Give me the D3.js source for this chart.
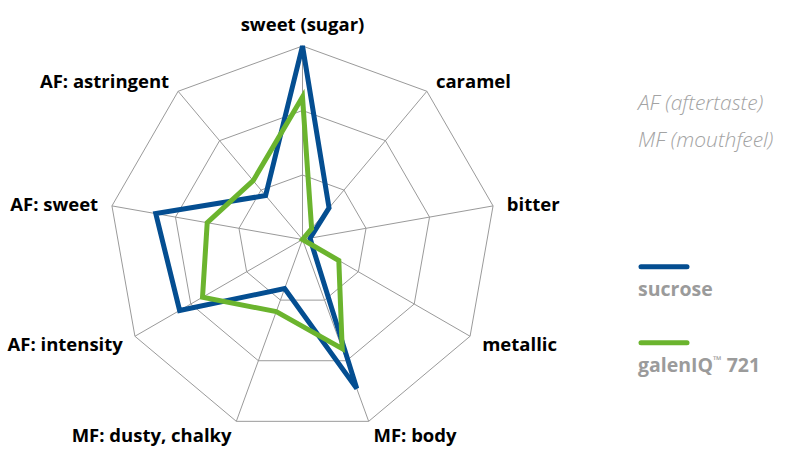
<!DOCTYPE html>
<html>
<head>
<meta charset="utf-8">
<script src="https://cdn.jsdelivr.net/npm/d3@7"></script>
<style>
  html, body { margin: 0; padding: 0; background: #fff; }
  svg { display: block; }
  text { font-family: "Open Sans", "DejaVu Sans", sans-serif; }
</style>
</head>
<body>
<svg id="chart" width="790" height="449"></svg>
<script>
// ---- data ----
const categories = ["sweet (sugar)", "caramel", "bitter", "metallic", "MF: body",
                    "MF: dusty, chalky", "AF: intensity", "AF: sweet", "AF: astringent"];
const sucrose   = [3.0, 0.64, 0.12, 0.17, 2.46, 0.81, 2.20, 2.31, 0.89];
const galenIQ   = [2.21, 0.22, 0.0, 0.65, 1.80, 1.19, 1.79, 1.50, 1.19];
const ringTicks = [1, 2, 3];
const seriesNames = ["sucrose", "galenIQ"];
const notes = ["AF (aftertaste)", "MF (mouthfeel)"];

// ---- layout ----
const svg = d3.select("#chart");
const cx = 302.5, cy = 239.5, R = 193.5;
const blue = "#044e91", green = "#6bb42e", gridColor = "#9a9a9a";

const r = d3.scaleLinear().domain([0, 3]).range([0, R]);
const angle = d3.scaleLinear().domain([0, categories.length]).range([0, 2 * Math.PI]);

const g = svg.append("g").attr("transform", `translate(${cx},${cy})`);

const pt = (i, v) => [r(v) * Math.sin(angle(i)), -r(v) * Math.cos(angle(i))];

// rings
ringTicks.forEach(t => {
  g.append("polygon")
    .attr("points", categories.map((c, i) => pt(i, t).join(",")).join(" "))
    .attr("fill", "none").attr("stroke", gridColor).attr("stroke-width", 1);
});
// spokes
categories.forEach((c, i) => {
  const [x, y] = pt(i, 3);
  g.append("line").attr("x1", 0).attr("y1", 0).attr("x2", x).attr("y2", y)
    .attr("stroke", gridColor).attr("stroke-width", 1);
});

// series
const radial = d3.lineRadial()
  .angle((d, i) => angle(i))
  .radius(d => r(d))
  .curve(d3.curveLinearClosed);

[[sucrose, blue], [galenIQ, green]].forEach(([vals, col]) => {
  g.append("path")
    .attr("d", radial(vals))
    .attr("fill", "none")
    .attr("stroke", col)
    .attr("stroke-width", 5)
    .attr("stroke-linejoin", "miter")
    .attr("stroke-miterlimit", 4);
});

// category labels
categories.forEach((c, i) => {
  const a = angle(i);
  const s = Math.sin(a), co = Math.cos(a);
  const pad = co > 0.95 ? 22 : 14;
  const [vx, vy] = pt(i, 3);
  const x = vx + pad * s;
  const y = vy - pad * co + 1;
  const anchor = s > 0.1 ? "start" : (s < -0.1 ? "end" : "middle");
  g.append("text")
    .attr("x", x).attr("y", y)
    .attr("dy", "0.35em")
    .attr("text-anchor", anchor)
    .attr("font-size", 18.5)
    .attr("font-weight", 700)
    .attr("fill", "#000")
    .text(c);
});

// notes
notes.forEach((n, i) => {
  svg.append("text")
    .attr("x", 638).attr("y", 110 + i * 36.5)
    .attr("font-size", 21)
    .attr("font-style", "italic")
    .attr("font-weight", 300)
    .attr("fill", "#a3a3a3")
    .text(n);
});

// legend
const legendColors = [blue, green];
seriesNames.forEach((n, i) => {
  const y0 = 266.7 + i * 76;
  svg.append("line")
    .attr("x1", 641).attr("x2", 687).attr("y1", y0).attr("y2", y0)
    .attr("stroke", legendColors[i]).attr("stroke-width", 5)
    .attr("stroke-linecap", "round");
  const t = svg.append("text")
    .attr("x", 638).attr("y", y0 + 29)
    .attr("font-size", 19.5)
    .attr("font-weight", 700)
    .attr("fill", "#9b9b9b");
  if (n === "galenIQ") {
    t.append("tspan").text("galenIQ");
    t.append("tspan").attr("font-size", 11).attr("dy", -8).text("™");
    t.append("tspan").attr("dy", 8).text(" 721");
  } else {
    t.text(n);
  }
});
</script>
</body>
</html>
